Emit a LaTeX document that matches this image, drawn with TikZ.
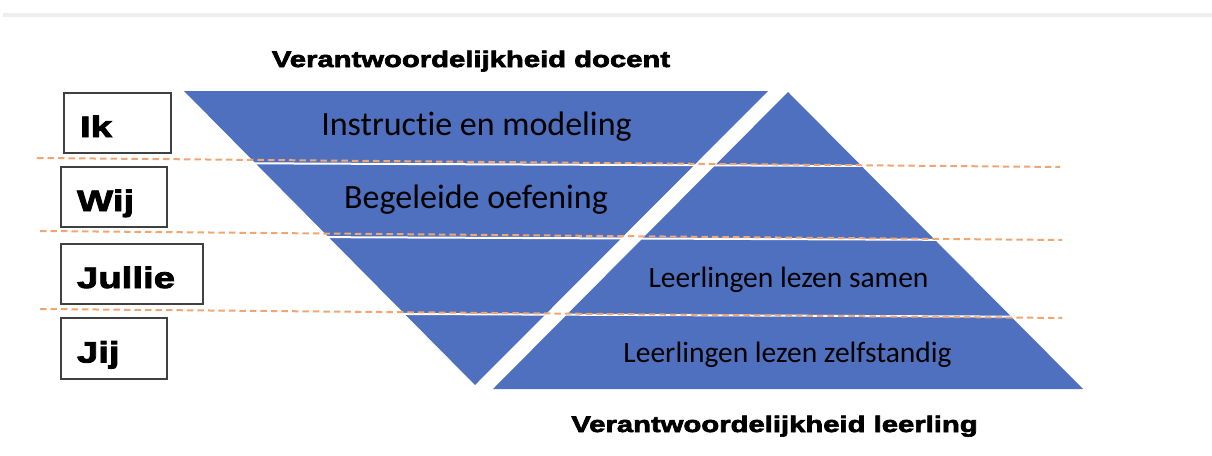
\documentclass[tikz,border=0pt]{standalone}
\usepackage{fontspec}
\setmainfont{Carlito}[Ligatures=CommonOff]
\newfontfamily\heavyfont[FakeStretch=1.3,FakeBold=3]{Liberation Sans Bold}
\usetikzlibrary{positioning}
\definecolor{pyrblue}{HTML}{4E70BE}
\definecolor{dashorange}{HTML}{F0A673}
\definecolor{boxgray}{HTML}{404040}
\definecolor{bargray}{HTML}{EEEEEE}
\begin{document}
\begin{tikzpicture}[x=1pt,y=-1pt,
  band/.style={font=\fontsize{34}{40}\selectfont,anchor=base,inner sep=0pt},
  smallband/.style={font=\fontsize{29.5}{34}\selectfont,anchor=base,inner sep=0pt},
  heading/.style={font=\heavyfont\fontsize{22.5}{26}\selectfont,anchor=base,inner sep=0pt},
  who/.style={draw=boxgray,line width=1.5pt,minimum height=60pt,inner xsep=16pt,
    align=left,text height=28pt,text depth=0pt,font=\heavyfont\fontsize{29.5}{34}\selectfont}]
\useasboundingbox (0,0) rectangle (1212,455);
\fill[bargray] (3,12.7) rectangle (1212,17.3);
\coordinate (dtl) at (184,91);
\coordinate (dtr) at (768,91);
\coordinate (dbot) at (475,385);
\coordinate (ltop) at (788,92);
\coordinate (lbr) at (1083,389);
\coordinate (lbl) at (493,389);
\fill[pyrblue] (dtl) -- (dtr) -- (dbot) -- cycle;
\fill[pyrblue] (ltop) -- (lbr) -- (lbl) -- cycle;
\foreach \ya in {163,236.5,313}
  \draw[white,line width=2pt] (180,\ya) -- (1095,\ya+4);
\node [heading] (docent) at (471,67) {Verantwoordelijkheid docent};
\node [heading] (leerling) at (774.5,432) {Verantwoordelijkheid leerling};
\node [band] (instr) at (476.5,135) {Instructie en modeling};
\node [band] (begel) at (476,208) {Begeleide oefening};
\node [smallband] (samen) at (788.5,287) {Leerlingen lezen samen};
\node [smallband] (zelf) at (787.5,362) {Leerlingen lezen zelfstandig};
\node [who,text width=75pt] (ik) at (117.5,123) {Ik};
\node [who,text width=74pt] (wij) at (114,197) {Wij};
\node [who,text width=110pt] (jullie) at (132,274) {Jullie};
\node [who,text width=74pt,minimum height=61pt] (jij) at (114,348.5) {Jij};
\foreach \xa/\ya/\xb/\yb [count=\i] in {37/158/1060/167,40/231/1062/240,40/309/1062/318}{
  \coordinate (sepa\i) at (\xa,\ya);
  \coordinate (sepb\i) at (\xb,\yb);
  \draw[dashorange,line width=2pt,dash pattern=on 6.5pt off 4pt] (sepa\i) -- (sepb\i);
}
\end{tikzpicture}
\end{document}
